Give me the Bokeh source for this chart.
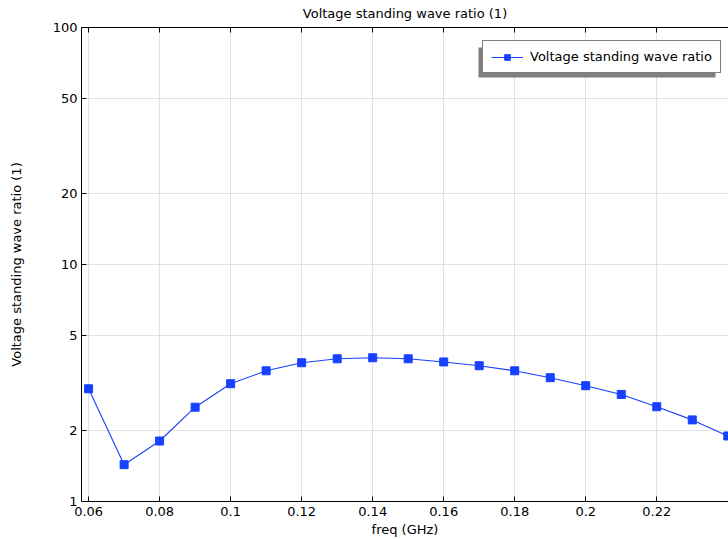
from bokeh.plotting import figure
from bokeh.models import Range1d, FixedTicker, LinearAxis, BoxAnnotation, Legend, LegendItem, PrintfTickFormatter
from bokeh.embed import file_html
from bokeh.resources import INLINE

freq = [0.06, 0.07, 0.08, 0.09, 0.10, 0.11, 0.12, 0.13, 0.14, 0.15,
        0.16, 0.17, 0.18, 0.19, 0.20, 0.21, 0.22, 0.23, 0.24]
vswr = [2.99, 1.43, 1.80, 2.50, 3.14, 3.56, 3.85, 4.00, 4.04, 4.00,
        3.88, 3.74, 3.56, 3.33, 3.08, 2.83, 2.51, 2.21, 1.89]
x_ticks = [0.06, 0.08, 0.10, 0.12, 0.14, 0.16, 0.18, 0.20, 0.22]
x_labels = ["0.06", "0.08", "0.1", "0.12", "0.14", "0.16", "0.18", "0.2", "0.22"]
y_ticks = [1, 2, 5, 10, 20, 50, 100]

FONT = "DejaVu Sans"
BLUE = "#1740ff"

p = figure(width=728, height=539, output_backend="svg", toolbar_location=None,
           y_axis_type="log", x_range=Range1d(0.058, 0.2402), y_range=Range1d(1, 100),
           min_border_left=81, min_border_right=0, min_border_top=27, min_border_bottom=38,
           title="Voltage standing wave ratio (1)")
p.title.align = "center"
p.title.vertical_align = "top"
p.title.text_font = FONT
p.title.text_font_size = "13px"
p.title.text_font_style = "normal"
p.title.text_color = "black"
p.title.standoff = 9
p.outline_line_color = None
p.background_fill_color = "white"

for ax in (p.xaxis[0], p.yaxis[0]):
    ax.major_tick_in = 5
    ax.major_tick_out = 0
    ax.minor_tick_in = 0
    ax.minor_tick_out = 0
    ax.axis_line_color = "black"
    ax.major_tick_line_color = "black"
    ax.major_label_text_font = FONT
    ax.major_label_text_font_size = "13px"
    ax.axis_label_text_font = FONT
    ax.axis_label_text_font_size = "13px"
    ax.axis_label_text_font_style = "normal"
    ax.axis_label_text_color = "black"
    ax.major_label_text_color = "black"

p.xaxis.ticker = FixedTicker(ticks=x_ticks)
p.xaxis.major_label_overrides = {t: l for t, l in zip(x_ticks, x_labels)}
p.xaxis.axis_label = "freq (GHz)"
p.xaxis.major_label_standoff = 5
p.xaxis.axis_label_standoff = 3

p.yaxis.ticker = FixedTicker(ticks=y_ticks)
p.yaxis.formatter = PrintfTickFormatter(format="%d")
p.yaxis.axis_label = "Voltage standing wave ratio (1)"
p.yaxis.major_label_standoff = 4
p.yaxis.axis_label_standoff = 26

top = LinearAxis(ticker=FixedTicker(ticks=x_ticks),
                 major_label_overrides={t: "" for t in x_ticks},
                 major_label_text_font_size="1px",
                 major_tick_in=5, major_tick_out=0, minor_tick_in=0, minor_tick_out=0,
                 major_label_standoff=0, axis_line_color="black")
p.add_layout(top, "above")

p.xgrid.grid_line_color = "#e2e2e2"
p.ygrid.grid_line_color = "#e2e2e2"
p.xgrid.ticker = FixedTicker(ticks=x_ticks)
p.ygrid.ticker = FixedTicker(ticks=y_ticks)

ln = p.line(freq, vswr, line_color=BLUE, line_width=1.1)
mk = p.scatter(freq, vswr, marker="square", size=8, fill_color=BLUE, line_color=BLUE)

shadow = BoxAnnotation(left=397, right=634, top=454, bottom=424,
                       left_units="screen", right_units="screen",
                       top_units="screen", bottom_units="screen",
                       fill_color="#7f7f7f", fill_alpha=1.0, line_color=None, level="overlay")
p.add_layout(shadow)

legend = Legend(items=[LegendItem(label="Voltage standing wave ratio", renderers=[ln, mk])],
                location=(401, 428), border_line_color="black", border_line_width=1.5,
                background_fill_alpha=1.0, label_text_font=FONT, label_text_font_size="13px",
                label_text_color="black",
                glyph_width=32, glyph_height=14, padding=8, spacing=0, margin=0,
                label_standoff=7)
p.add_layout(legend)

open("out.html", "w").write(file_html(p, INLINE))
